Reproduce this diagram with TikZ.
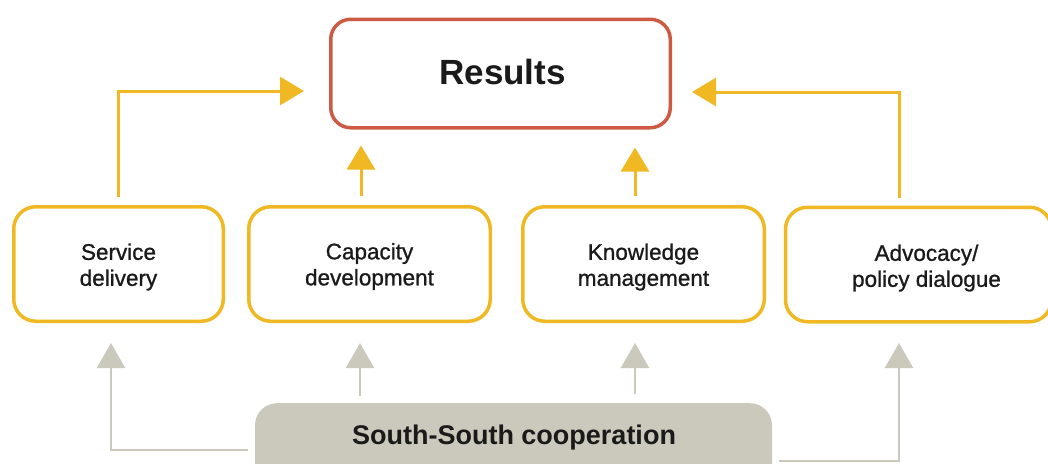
\documentclass[tikz,border=0pt]{standalone}
\usepackage{fontspec}
\setmainfont{Liberation Sans}
\newfontfamily\medfont[FakeBold=1.0]{Liberation Sans}
\usetikzlibrary{arrows.meta,calc}
\definecolor{ylw}{HTML}{F0B823}
\definecolor{rd}{HTML}{CD5A42}
\definecolor{gry}{HTML}{CBC8BC}
\definecolor{txt}{HTML}{1A1A1A}
\begin{document}
\begin{tikzpicture}[x=1pt,y=-1pt,
  resbox/.style={draw=rd,line width=3.5pt,rounded corners=20pt,minimum width=339.5pt,minimum height=108.5pt,inner sep=0pt},
  restext/.style={inner sep=0pt,text=txt,font=\fontsize{35}{42}\selectfont\bfseries},
  actbox/.style={draw=ylw,line width=3.5pt,rounded corners=22pt,minimum height=114.5pt,inner sep=0pt},
  acttext/.style={align=center,inner sep=0pt,text=txt,font=\fontsize{22.5}{26}\selectfont\medfont},
  sscbox/.style={fill=gry,rounded corners=22pt,minimum width=517pt,minimum height=95pt,inner sep=0pt},
  yarr/.style={draw=ylw,line width=3pt,-{Triangle[length=24pt,width=28pt]}},
  garr/.style={draw=gry,line width=2.5pt,-{Triangle[length=25pt,width=28pt]}}]
\useasboundingbox (0,0) rectangle (1048,463);
\clip (0,0) rectangle (1048,463);

\node[resbox] (res) at (500.5,73.5) {};
\node[restext] (rest) at ($(res.center)+(2,-2)$) {Results};

\node[actbox,minimum width=209.5pt] (sd) at (118.5,264) {};
\node[actbox,minimum width=241.5pt] (cd) at (369.5,264) {};
\node[actbox,minimum width=241.5pt] (km) at (643.5,264) {};
\node[actbox,minimum width=266pt] (ap) at (918.5,264.5) {};
\node[acttext] (sdt) at ($(sd.center)+(0,3)$) {Service\\delivery};
\node[acttext] (cdt) at ($(cd.center)+(0,2.5)$) {Capacity\\development};
\node[acttext] (kmt) at ($(km.center)+(0,3)$) {Knowledge\\management};
\node[acttext] (apt) at ($(ap.center)+(8,3.5)$) {Advocacy/\\policy dialogue};

\node[sscbox,anchor=north] (ssc) at (513.5,403) {};
\node[text=txt,font=\fontsize{27}{30}\selectfont\bfseries] (ssct) at (514,438) {South-South cooperation};

% yellow arrows to results
\coordinate (sdtop) at ($(sd.north)+(0,-8)$);
\coordinate (sdtip) at ($(res.west)+(-25,17.5)$);
\draw[yarr] (sdtop) |- (sdtip);
\coordinate (aptop) at ($(ap.north)+(-19.5,-8)$);
\coordinate (aptip) at ($(res.east)+(20,18.5)$);
\draw[yarr] (aptop) |- (aptip);
\coordinate (cdtop) at ($(cd.north)+(-8.5,-9)$);
\draw[yarr] (cdtop) -- (cdtop |- {$(res.south)+(0,16)$});
\coordinate (kmtop) at ($(km.north)+(-8.5,-9)$);
\draw[yarr] (kmtop) -- (kmtop |- {$(res.south)+(0,18)$});

% gray arrows from south-south cooperation
\coordinate (sscl) at ($(ssc.north west)+(-7,47)$);
\coordinate (sdbot) at ($(sd.south)+(-7.5,20)$);
\draw[garr] (sscl) -| (sdbot);
\coordinate (sscr) at ($(ssc.north east)+(7,58)$);
\coordinate (apbot) at ($(ap.south)+(-19.5,19.5)$);
\draw[garr] (sscr) -| (apbot);
\coordinate (cdbot) at ($(cd.south)+(-9.5,20)$);
\draw[garr] (cdbot |- {$(ssc.north)+(0,-7)$}) -- (cdbot);
\coordinate (kmbot) at ($(km.south)+(-8.5,20)$);
\draw[garr] (kmbot |- {$(ssc.north)+(0,-9)$}) -- (kmbot);
\end{tikzpicture}
\end{document}
